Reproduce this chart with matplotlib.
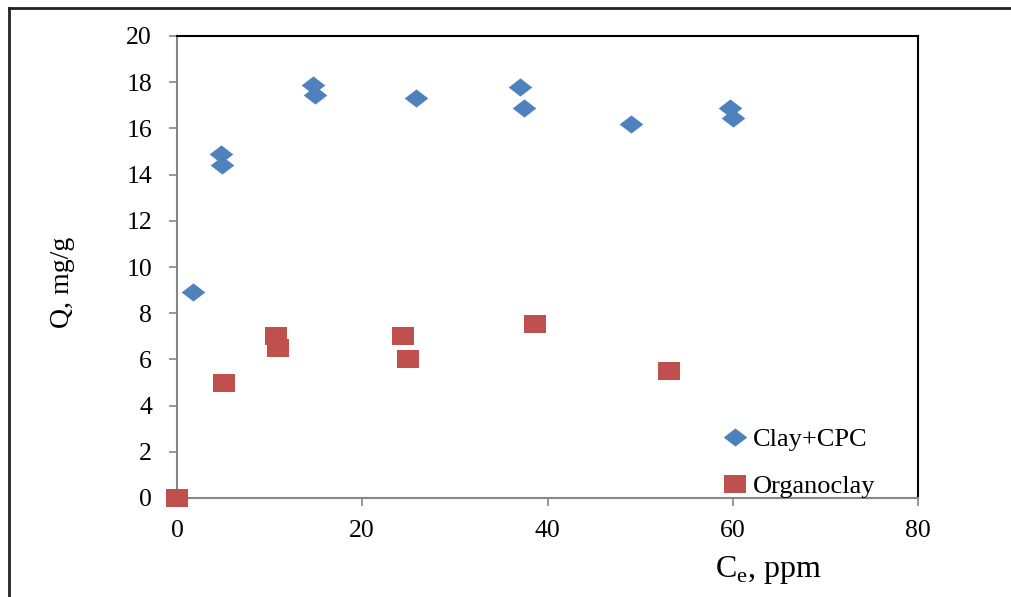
import matplotlib
matplotlib.use("Agg")
import matplotlib.pyplot as plt
from matplotlib.lines import Line2D

# Data
clay_cpc_ce = [1.7, 4.7, 4.9, 14.7, 14.9, 25.8, 37.0, 37.5, 49.0, 59.7, 60.0]
clay_cpc_q = [8.9, 14.9, 14.4, 17.9, 17.45, 17.3, 17.8, 16.9, 16.2, 16.9, 16.45]
organoclay_ce = [0.0, 5.1, 10.7, 10.9, 24.4, 24.9, 38.6, 53.1]
organoclay_q = [0.0, 5.0, 7.0, 6.5, 7.0, 6.0, 7.55, 5.5]

x_ticks = [0, 20, 40, 60, 80]
y_ticks = list(range(0, 21, 2))

plt.rcParams['font.family'] = ['Liberation Serif', 'DejaVu Serif']

BLUE = '#4F81BD'
RED = '#C0504D'
GREY = '#868686'

# wide markers (the source image is a bit stretched horizontally)
diamond = [(-1, 0), (0, 0.77), (1, 0), (0, -0.77), (-1, 0)]
rect = [(-1, -0.8), (1, -0.8), (1, 0.8), (-1, 0.8), (-1, -0.8)]

fig = plt.figure(figsize=(10.11, 5.97), dpi=100)
ax = fig.add_axes([177 / 1011, 1 - 498 / 597, 741 / 1011, 462 / 597])

ax.plot(clay_cpc_ce, clay_cpc_q, linestyle='none', marker=diamond,
        markersize=17, color=BLUE, markeredgewidth=0, clip_on=False,
        zorder=3, label='Clay+CPC')
ax.plot(organoclay_ce, organoclay_q, linestyle='none', marker=rect,
        markersize=16, color=RED, markeredgewidth=0, clip_on=False,
        zorder=3, label='Organoclay')

ax.set_xlim(0, 80)
ax.set_ylim(0, 20)
ax.set_xticks(x_ticks)
ax.set_yticks(y_ticks)
ax.tick_params(axis='both', direction='out', length=6, width=1.2,
               color=GREY, labelsize=18.5, labelcolor='black')
ax.tick_params(axis='y', pad=12)
ax.tick_params(axis='x', pad=10)

for side in ['left', 'bottom']:
    ax.spines[side].set_color(GREY)
    ax.spines[side].set_linewidth(1.5)
    ax.spines[side].set_zorder(2.5)
for side in ['top', 'right']:
    ax.spines[side].set_color('black')
    ax.spines[side].set_linewidth(1.5)

ax.set_ylabel('Q, mg/g', fontsize=20, va='center')
ax.yaxis.set_label_coords(-0.154, 0.4675)
ax.set_xlabel(r'C$_\mathregular{e}$, ppm', fontsize=23, va='center')
ax.xaxis.set_label_coords(0.7976, -0.156)

leg = ax.legend(loc='upper left', bbox_to_anchor=(724 / 1011, 1 - 428 / 597),
                bbox_transform=fig.transFigure, frameon=False, fontsize=19,
                handlelength=0.8, handletextpad=0.3, labelspacing=0.87,
                borderaxespad=0, borderpad=0)

# outer frame of the chart area (cut off at right and bottom)
fig.add_artist(Line2D([9 / 1011, 9 / 1011], [0, 1 - 8 / 597], color='#222222',
                      linewidth=2, transform=fig.transFigure))
fig.add_artist(Line2D([9 / 1011, 1], [1 - 8 / 597, 1 - 8 / 597], color='#222222',
                      linewidth=2, transform=fig.transFigure))

fig.savefig('out.png', dpi=100, facecolor='white')
